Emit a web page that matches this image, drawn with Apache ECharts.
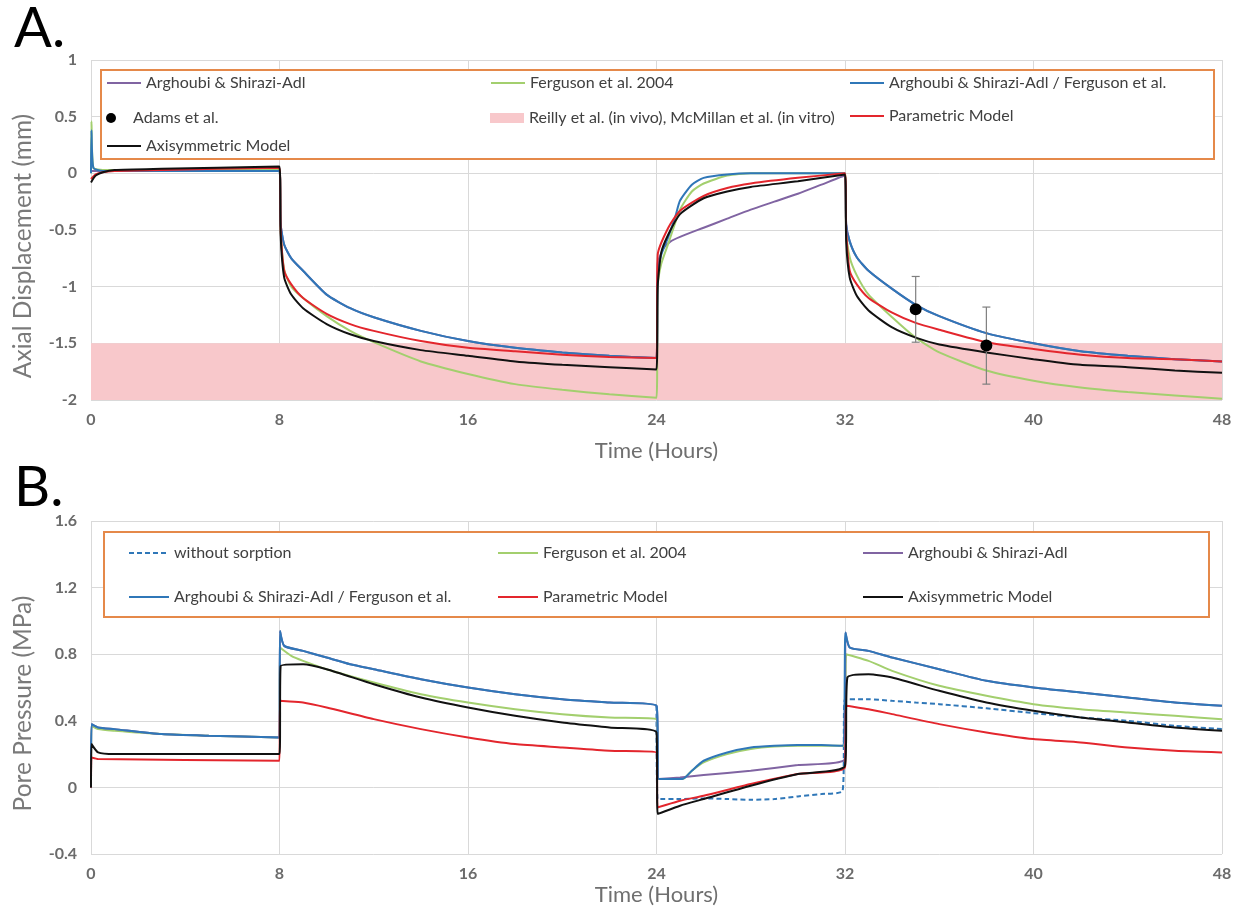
<!doctype html>
<html>
<head>
<meta charset="UTF-8">
<title>Axial displacement and pore pressure</title>
<script src="https://cdn.jsdelivr.net/npm/echarts@6/dist/echarts.min.js"></script>
<style>
  html, body { margin: 0; padding: 0; background: #fff; }
  #main { width: 1241px; height: 911px; }
</style>
</head>
<body>
<div id="main"></div>
<script>
// ---- panel A: axial displacement (mm), [time h, value] ----
var dispPurple = [[0,0.02],[8,0.02],[8.05,-0.45],[8.2,-0.63],[8.5,-0.75],[9,-0.86],[10,-1.07],[11,-1.19],[12,-1.27],[14,-1.39],[16,-1.48],[18,-1.54],[20,-1.58],[22,-1.61],[24,-1.63],
  [24.05,-0.8],[24.3,-0.66],[24.6,-0.6],[25,-0.56],[26,-0.48],[27,-0.4],[28,-0.32],[29,-0.25],[30,-0.18],[31,-0.1],[32,-0.02],
  [32.05,-0.45],[32.2,-0.6],[32.5,-0.74],[33,-0.86],[34,-1.02],[35,-1.16],[36,-1.26],[38,-1.41],[40,-1.5],[42,-1.57],[44,-1.61],[46,-1.64],[48,-1.66]];
var dispGreen = [[0,0],[0.02,0.46],[0.1,0.05],[0.5,0.03],[8,0.03],[8.05,-0.5],[8.2,-0.85],[8.5,-1.0],[9,-1.1],[10,-1.26],[11,-1.39],[12,-1.49],[14,-1.66],[16,-1.77],[18,-1.86],[20,-1.91],[22,-1.95],[24,-1.98],
  [24.05,-1.0],[24.2,-0.8],[24.5,-0.62],[25,-0.32],[25.5,-0.16],[26,-0.09],[27,-0.02],[28,0],[32,0],
  [32.05,-0.5],[32.2,-0.74],[32.5,-0.9],[33,-1.07],[34,-1.27],[35,-1.45],[36,-1.58],[38,-1.74],[40,-1.83],[42,-1.89],[44,-1.93],[46,-1.96],[48,-1.99]];
var dispBlue = [[0,0],[0.02,0.38],[0.1,0.05],[0.5,0.02],[8,0.02],[8.05,-0.45],[8.2,-0.63],[8.5,-0.75],[9,-0.86],[10,-1.07],[11,-1.19],[12,-1.27],[14,-1.39],[16,-1.48],[18,-1.54],[20,-1.58],[22,-1.61],[24,-1.63],
  [24.05,-0.9],[24.2,-0.72],[24.5,-0.56],[24.8,-0.38],[25,-0.24],[25.5,-0.1],[26,-0.04],[27,-0.01],[28,0],[32,0],
  [32.05,-0.45],[32.2,-0.6],[32.5,-0.74],[33,-0.86],[34,-1.02],[35,-1.16],[36,-1.26],[38,-1.41],[40,-1.5],[42,-1.57],[44,-1.61],[46,-1.64],[48,-1.66]];
var dispRed = [[0,-0.05],[0.2,-0.01],[0.5,0.01],[1,0.02],[3,0.03],[8,0.05],[8.05,-0.5],[8.2,-0.86],[8.5,-0.98],[9,-1.1],[10,-1.24],[11,-1.33],[12,-1.39],[14,-1.48],[16,-1.54],[18,-1.57],[20,-1.6],[22,-1.62],[24,-1.63],
  [24.05,-0.72],[24.5,-0.48],[25,-0.33],[26,-0.2],[27,-0.13],[28,-0.09],[30,-0.04],[32,0],
  [32.05,-0.5],[32.2,-0.86],[32.5,-0.98],[33,-1.1],[34,-1.23],[35,-1.32],[36,-1.38],[38,-1.49],[40,-1.55],[42,-1.6],[44,-1.63],[46,-1.64],[48,-1.66]];
var dispBlack = [[0,-0.08],[0.2,-0.02],[0.5,0.01],[1,0.03],[3,0.04],[8,0.06],[8.05,-0.55],[8.2,-0.92],[8.5,-1.07],[9,-1.19],[10,-1.33],[11,-1.42],[12,-1.48],[14,-1.56],[16,-1.61],[18,-1.66],[20,-1.69],[22,-1.71],[24,-1.73],
  [24.05,-1.0],[24.2,-0.7],[24.5,-0.54],[25,-0.36],[26,-0.22],[27,-0.16],[28,-0.12],[30,-0.07],[32,-0.01],
  [32.05,-0.6],[32.2,-0.92],[32.5,-1.08],[33,-1.21],[34,-1.36],[35,-1.45],[36,-1.51],[38,-1.58],[40,-1.64],[42,-1.69],[44,-1.71],[46,-1.74],[48,-1.76]];
var reillyBand = [[0,-1.5],[48,-1.5]];
var adamsTime = [35, 38];
var adamsMean = [-1.2, -1.52];
var adamsLow = [-1.49, -1.86];
var adamsHigh = [-0.91, -1.18];

// ---- panel B: pore pressure (MPa), [time h, value] ----
var presDashed = [[24,0.49],[24.05,-0.07],[25,-0.07],[26,-0.066],[27,-0.07],[28,-0.074],[29,-0.07],[30,-0.054],[31,-0.04],[31.9,-0.02],
  [32,0.53],[33,0.53],[34,0.52],[35,0.51],[36,0.5],[38,0.475],[40,0.446],[42,0.42],[44,0.4],[46,0.37],[48,0.35]];
var presGreen = [[0,0],[0.02,0.37],[0.3,0.35],[1,0.34],[3,0.32],[5,0.31],[8,0.3],[8.02,0.84],[8.5,0.79],[9,0.76],[10,0.71],[12,0.63],[14,0.56],[16,0.51],[18,0.47],[20,0.44],[22,0.42],[24,0.41],
  [24.1,0.05],[25.1,0.05],[25.5,0.1],[26,0.15],[27,0.2],[28,0.23],[29,0.245],[30,0.25],[32,0.25],
  [32.05,0.8],[33,0.76],[34,0.7],[36,0.61],[38,0.55],[40,0.5],[42,0.47],[44,0.45],[46,0.43],[48,0.41]];
var presPurple = [[0,0],[0.02,0.38],[0.3,0.36],[1,0.35],[3,0.32],[5,0.31],[8,0.3],[8.02,0.94],[8.2,0.85],[9,0.82],[10,0.78],[11,0.74],[12,0.71],[14,0.65],[16,0.6],[18,0.56],[20,0.53],[22,0.51],[24,0.49],
  [24.1,0.05],[25,0.06],[26,0.074],[28,0.1],[30,0.134],[32,0.174],
  [32.02,0.93],[32.2,0.84],[33,0.82],[34,0.78],[36,0.71],[38,0.64],[40,0.6],[42,0.57],[44,0.54],[46,0.51],[48,0.49]];
var presBlue = [[0,0],[0.02,0.38],[0.3,0.36],[1,0.35],[3,0.32],[5,0.31],[8,0.3],[8.02,0.94],[8.2,0.85],[9,0.82],[10,0.78],[11,0.74],[12,0.71],[14,0.65],[16,0.6],[18,0.56],[20,0.53],[22,0.51],[24,0.49],
  [24.1,0.05],[25.1,0.05],[25.5,0.1],[26,0.16],[27,0.21],[28,0.24],[29,0.25],[30,0.255],[31,0.255],[31.9,0.25],
  [32.02,0.93],[32.2,0.84],[33,0.82],[34,0.78],[36,0.71],[38,0.64],[40,0.6],[42,0.57],[44,0.54],[46,0.51],[48,0.49]];
var presRed = [[0,0],[0.02,0.18],[0.3,0.17],[8,0.16],[8.02,0.52],[9,0.51],[10,0.48],[12,0.41],[14,0.35],[16,0.3],[18,0.26],[20,0.24],[22,0.22],[24,0.21],
  [24.05,-0.12],[25,-0.08],[26,-0.05],[28,0.02],[30,0.08],[32,0.12],
  [32.05,0.49],[33,0.47],[34,0.44],[36,0.38],[38,0.33],[40,0.29],[42,0.27],[44,0.24],[46,0.22],[48,0.21]];
var presBlack = [[0,0],[0.02,0.26],[0.3,0.21],[1,0.2],[8,0.2],[8.05,0.73],[9,0.74],[10,0.71],[12,0.62],[14,0.54],[16,0.48],[18,0.43],[20,0.39],[22,0.36],[24,0.33],
  [24.05,-0.16],[25,-0.11],[26,-0.07],[28,0.01],[30,0.08],[32,0.13],
  [32.1,0.66],[33,0.68],[34,0.66],[36,0.58],[38,0.51],[40,0.46],[42,0.42],[44,0.39],[46,0.36],[48,0.34]];

var hourTicks = 8;

var C = {
  purple: '#8064A2', green: '#A3CF6E', blue: '#2F77B8',
  red: '#E3262D', black: '#111111', pink: '#F8C8CB'
};
var FONT = 'Lato';

var chart = echarts.init(document.getElementById('main'), null, { renderer: 'canvas' });

function line(name, data, color, ax, extra) {
  var s = {
    name: name, type: 'line', data: data,
    xAxisIndex: ax, yAxisIndex: ax,
    symbol: 'none', smooth: 0.2,
    lineStyle: { color: color, width: 2 },
    itemStyle: { color: color },
    z: 2, animation: false
  };
  for (var k in extra) s[k] = extra[k];
  return s;
}

// one legend per entry so every entry sits where the reference has it
function legendItem(name, left, top, opts) {
  var l = {
    data: [name], left: left, top: top, padding: 0,
    itemWidth: 34, itemHeight: 14, selectedMode: false, z: 6,
    itemStyle: { opacity: 0 },
    textStyle: { fontFamily: FONT, fontSize: 16, color: '#404040' }
  };
  for (var k in opts) l[k] = opts[k];
  return l;
}

function xAx(grid, nameGap) {
  return {
    type: 'value', gridIndex: grid, min: 0, max: 48, interval: hourTicks,
    name: 'Time (Hours)', nameLocation: 'middle', nameGap: nameGap,
    nameTextStyle: { fontFamily: FONT, fontSize: 22, color: '#6f6f6f' },
    axisLine: { show: false }, axisTick: { show: false },
    axisLabel: { fontFamily: FONT, fontSize: 16, fontWeight: 'bold', color: '#6b6b6b', margin: 12 },
    splitLine: { show: true, lineStyle: { color: '#d9d9d9', width: 1 } }
  };
}

function yAx(grid, name, min, max, step) {
  return {
    type: 'value', gridIndex: grid, min: min, max: max, interval: step,
    name: name, nameLocation: 'middle', nameGap: 55,
    nameTextStyle: { fontFamily: FONT, fontSize: 24.5, color: '#7a7a7a', padding: [0, 32, 0, 0] },
    axisLine: { show: false }, axisTick: { show: false },
    axisLabel: { fontFamily: FONT, fontSize: 16, fontWeight: 'bold', color: '#6b6b6b', margin: 14 },
    splitLine: { show: true, lineStyle: { color: '#d9d9d9', width: 1 } }
  };
}

var option = {
  backgroundColor: '#ffffff',
  animation: false,
  grid: [
    { left: 91, top: 60, width: 1131, height: 340 },
    { left: 91, top: 521, width: 1131, height: 333 }
  ],
  xAxis: [xAx(0, 40), xAx(1, 30)],
  yAxis: [
    yAx(0, 'Axial Displacement (mm)', -2, 1, 0.5),
    yAx(1, 'Pore Pressure (MPa)', -0.4, 1.6, 0.4)
  ],
  graphic: [
    { type: 'text', left: 14, top: 1, z: 10, style: { text: 'A.', font: '56px ' + FONT, fill: '#000' } },
    { type: 'text', left: 14, top: 460, z: 10, style: { text: 'B.', font: '56px ' + FONT, fill: '#000' } },
    { type: 'rect', left: 100, top: 69, z: 3, shape: { width: 1113, height: 89 },
      style: { fill: '#fff', stroke: '#E5894A', lineWidth: 2 } },
    { type: 'rect', left: 103, top: 531, z: 3, shape: { width: 1105, height: 85 },
      style: { fill: '#fff', stroke: '#E5894A', lineWidth: 2 } }
  ],
  legend: [
    legendItem('Arghoubi & Shirazi-Adl', 106, 75),
    legendItem('Ferguson et al. 2004', 490, 75),
    legendItem('Arghoubi & Shirazi-Adl / Ferguson et al.', 849, 75),
    legendItem('Adams et al.', 106, 110, { itemHeight: 10, itemStyle: { opacity: 1 } }),
    legendItem('Reilly et al. (in vivo), McMillan et al. (in vitro)', 490, 110, {
      icon: 'rect', itemHeight: 10, itemStyle: { opacity: 1 } }),
    legendItem('Parametric Model', 849, 108),
    legendItem('Axisymmetric Model', 106, 138),

    legendItem('without sorption', 128, 545, { itemWidth: 40 }),
    legendItem('Ferguson et al. 2004 ', 497, 545, { itemWidth: 40 }),
    legendItem('Arghoubi & Shirazi-Adl ', 862, 545, { itemWidth: 40 }),
    legendItem('Arghoubi & Shirazi-Adl / Ferguson et al. ', 128, 589, { itemWidth: 40 }),
    legendItem('Parametric Model ', 497, 589, { itemWidth: 40 }),
    legendItem('Axisymmetric Model ', 862, 589, { itemWidth: 40 })
  ],
  series: [
    line('Reilly et al. (in vivo), McMillan et al. (in vitro)', reillyBand, C.pink, 0, {
      z: 1, smooth: false, lineStyle: { width: 0, color: C.pink },
      areaStyle: { color: C.pink, opacity: 1, origin: 'start' }
    }),
    line('Arghoubi & Shirazi-Adl', dispPurple, C.purple, 0),
    line('Ferguson et al. 2004', dispGreen, C.green, 0),
    line('Arghoubi & Shirazi-Adl / Ferguson et al.', dispBlue, C.blue, 0),
    line('Parametric Model', dispRed, C.red, 0),
    line('Axisymmetric Model', dispBlack, C.black, 0),
    {
      type: 'custom', xAxisIndex: 0, yAxisIndex: 0, z: 4, animation: false,
      data: adamsTime.map(function (t, i) { return [t, adamsMean[i], adamsLow[i], adamsHigh[i]]; }),
      renderItem: function (params, api) {
        var top = api.coord([api.value(0), api.value(3)]);
        var bot = api.coord([api.value(0), api.value(2)]);
        var st = { stroke: '#7f7f7f', lineWidth: 1.2 };
        return { type: 'group', children: [
          { type: 'line', shape: { x1: top[0], y1: top[1], x2: bot[0], y2: bot[1] }, style: st },
          { type: 'line', shape: { x1: top[0] - 4, y1: top[1], x2: top[0] + 4, y2: top[1] }, style: st },
          { type: 'line', shape: { x1: bot[0] - 4, y1: bot[1], x2: bot[0] + 4, y2: bot[1] }, style: st }
        ] };
      }
    },
    {
      name: 'Adams et al.', type: 'scatter', xAxisIndex: 0, yAxisIndex: 0, z: 5, animation: false,
      symbol: 'circle', symbolSize: 12, itemStyle: { color: '#000', opacity: 1 },
      data: adamsTime.map(function (t, i) { return [t, adamsMean[i]]; })
    },

    line('without sorption', presDashed, C.blue, 1, {
      lineStyle: { color: C.blue, width: 2, type: [5, 3] }
    }),
    line('Ferguson et al. 2004 ', presGreen, C.green, 1),
    line('Arghoubi & Shirazi-Adl ', presPurple, C.purple, 1),
    line('Arghoubi & Shirazi-Adl / Ferguson et al. ', presBlue, C.blue, 1),
    line('Parametric Model ', presRed, C.red, 1),
    line('Axisymmetric Model ', presBlack, C.black, 1)
  ]
};

chart.setOption(option);
</script>
</body>
</html>
